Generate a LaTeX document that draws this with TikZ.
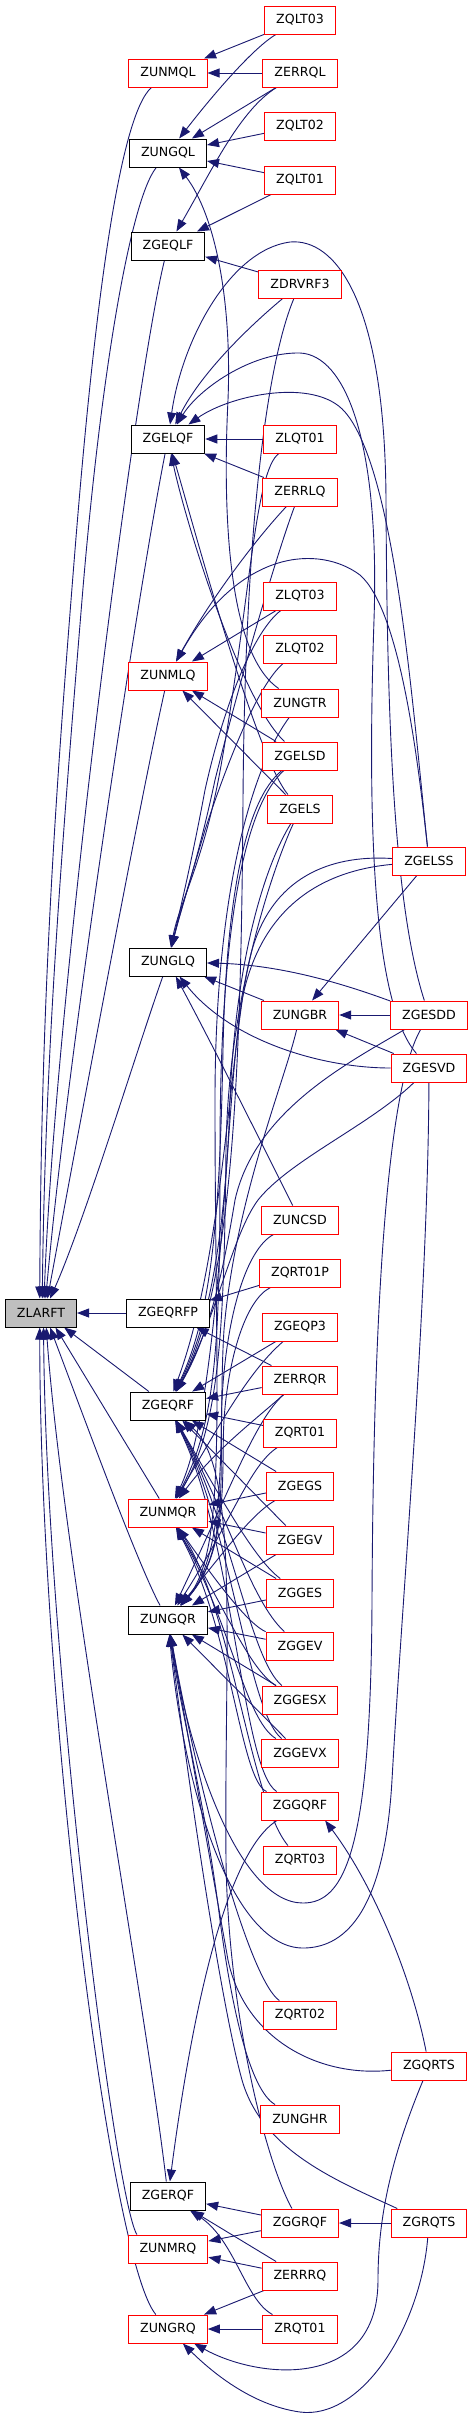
\documentclass[tikz,border=0pt]{standalone}
\usepackage{fontspec}
\setmainfont{DejaVu Sans}
\usetikzlibrary{arrows.meta}
\definecolor{edgeblue}{HTML}{191970}
\definecolor{nodered}{HTML}{FF0000}
\definecolor{rootgray}{HTML}{BFBFBF}
\pgfdeclarelayer{bg}
\pgfsetlayers{bg,main}
\begin{document}
\begin{tikzpicture}[x=1pt,y=-1pt,
  box/.style={draw, rectangle, line width=1pt, minimum height=28pt, inner xsep=11.5pt, inner ysep=0pt,
    font=\fontsize{12.6}{15}\selectfont, fill=white},
  blk/.style={box, draw=black},
  rbox/.style={box, draw=nodered},
  rootbox/.style={box, draw=black, fill=rootgray},
  e/.style={draw=edgeblue, line width=0.9pt, -{Triangle[length=12pt,width=9pt]}}]
\useasboundingbox (0,0) rectangle (475,2418);
% column 1
\node[rootbox] (ZLARFT) at (41,1313) {ZLARFT};
% column 2
\node[rbox] (ZUNMQL) at (168,73) {ZUNMQL};
\node[blk] (ZUNGQL) at (168,153) {ZUNGQL};
\node[blk] (ZGEQLF) at (168,246) {ZGEQLF};
\node[blk] (ZGELQF) at (168,439) {ZGELQF};
\node[rbox] (ZUNMLQ) at (168,676) {ZUNMLQ};
\node[blk] (ZUNGLQ) at (168,962) {ZUNGLQ};
\node[blk] (ZGEQRFP) at (168,1313) {ZGEQRFP};
\node[blk] (ZGEQRF) at (168,1406) {ZGEQRF};
\node[rbox] (ZUNMQR) at (168,1513) {ZUNMQR};
\node[blk] (ZUNGQR) at (168,1620) {ZUNGQR};
\node[blk] (ZGERQF) at (168,2196) {ZGERQF};
\node[rbox] (ZUNMRQ) at (168,2249) {ZUNMRQ};
\node[rbox] (ZUNGRQ) at (168,2329) {ZUNGRQ};
% column 3
\node[rbox] (ZQLT03) at (300,20) {ZQLT03};
\node[rbox] (ZERRQL) at (300,73) {ZERRQL};
\node[rbox] (ZQLT02) at (300,126) {ZQLT02};
\node[rbox] (ZQLT01) at (300,180) {ZQLT01};
\node[rbox] (ZDRVRF3) at (300,284) {ZDRVRF3};
\node[rbox] (ZLQT01) at (300,439) {ZLQT01};
\node[rbox] (ZERRLQ) at (300,492) {ZERRLQ};
\node[rbox] (ZLQT03) at (300,596) {ZLQT03};
\node[rbox] (ZLQT02) at (300,649) {ZLQT02};
\node[rbox] (ZUNGTR) at (300,703) {ZUNGTR};
\node[rbox] (ZGELSD) at (300,756) {ZGELSD};
\node[rbox] (ZGELS) at (300,809) {ZGELS};
\node[rbox] (ZUNGBR) at (300,1015) {ZUNGBR};
\node[rbox] (ZUNCSD) at (300,1220) {ZUNCSD};
\node[rbox] (ZQRT01P) at (300,1273) {ZQRT01P};
\node[rbox] (ZGEQP3) at (300,1327) {ZGEQP3};
\node[rbox] (ZERRQR) at (300,1380) {ZERRQR};
\node[rbox] (ZQRT01) at (300,1433) {ZQRT01};
\node[rbox] (ZGEGS) at (300,1486) {ZGEGS};
\node[rbox] (ZGEGV) at (300,1540) {ZGEGV};
\node[rbox] (ZGGES) at (300,1593) {ZGGES};
\node[rbox] (ZGGEV) at (300,1646) {ZGGEV};
\node[rbox] (ZGGESX) at (300,1700) {ZGGESX};
\node[rbox] (ZGGEVX) at (300,1753) {ZGGEVX};
\node[rbox] (ZGGQRF) at (300,1806) {ZGGQRF};
\node[rbox] (ZQRT03) at (300,1860) {ZQRT03};
\node[rbox] (ZQRT02) at (300,2015) {ZQRT02};
\node[rbox] (ZUNGHR) at (300,2119) {ZUNGHR};
\node[rbox] (ZGGRQF) at (300,2223) {ZGGRQF};
\node[rbox] (ZERRRQ) at (300,2276) {ZERRRQ};
\node[rbox] (ZRQT01) at (300,2329) {ZRQT01};
% column 4
\node[rbox] (ZGELSS) at (429,861) {ZGELSS};
\node[rbox] (ZGESDD) at (429,1015) {ZGESDD};
\node[rbox] (ZGESVD) at (429,1068) {ZGESVD};
\node[rbox] (ZGQRTS) at (429,2066) {ZGQRTS};
\node[rbox] (ZGRQTS) at (429,2223) {ZGRQTS};

\begin{pgfonlayer}{bg}
\fill[white] (0,0) rectangle (475,2418);
% into ZLARFT
\draw[e] (ZUNMQL) .. controls (120,115) and (95,300) .. (75,550) .. controls (55,800) and (41,1000) .. (ZLARFT.95);
\draw[e] (ZUNGQL) .. controls (130,200) and (100,380) .. (82,600) .. controls (64,820) and (45,1050) .. (ZLARFT.85);
\draw[e] (ZGEQLF) .. controls (135,380) and (55,1000) .. (ZLARFT.78);
\draw[e] (ZGELQF) .. controls (140,580) and (68,1050) .. (ZLARFT.72);
\draw[e] (ZUNMLQ) .. controls (140,800) and (75,1150) .. (ZLARFT.66);
\draw[e] (ZUNGLQ) .. controls (140,1040) and (85,1220) .. (ZLARFT.58);
\draw[e] (ZGEQRFP) -- (ZLARFT);
\draw[e] (ZGEQRF) -- (ZLARFT.-32);
\draw[e] (ZUNMQR) -- (ZLARFT.-45);
\draw[e] (ZUNGQR) .. controls (138,1565) and (85,1420) .. (ZLARFT.-58);
\draw[e] (ZGERQF) .. controls (145,2000) and (62,1550) .. (ZLARFT.-70);
\draw[e] (ZUNMRQ.155) .. controls (115,2200) and (46,1650) .. (ZLARFT.-80);
\draw[e] (ZUNGRQ) .. controls (110,2260) and (40,1700) .. (ZLARFT.-95);
% top group
\draw[e] (ZQLT03) -- (ZUNMQL);
\draw[e] (ZQLT03) .. controls (250,50) and (205,105) .. (ZUNGQL);
\draw[e] (ZERRQL) -- (ZUNMQL);
\draw[e] (ZERRQL) -- (ZUNGQL);
\draw[e] (ZERRQL) .. controls (240,110) and (212,170) .. (ZGEQLF);
\draw[e] (ZQLT02) -- (ZUNGQL);
\draw[e] (ZQLT01) -- (ZUNGQL);
\draw[e] (ZQLT01) -- (ZGEQLF);
\draw[e] (ZUNGTR) .. controls (222,650) and (224,480) .. (228,400) .. controls (232,300) and (215,215) .. (ZUNGQL);
\draw[e] (ZDRVRF3) -- (ZGEQLF);
% ZGELQF
\draw[e] (ZDRVRF3) .. controls (245,330) and (200,375) .. (ZGELQF);
\draw[e] (ZLQT01) -- (ZGELQF);
\draw[e] (ZERRLQ) -- (ZGELQF);
\draw[e] (ZGELSS) .. controls (412,700) and (395,470) .. (345,412) .. controls (315,377) and (230,395) .. (ZGELQF);
\draw[e] (ZGESDD) .. controls (392,900) and (387,700) .. (386,500) .. controls (385,300) and (335,238) .. (290,242) .. controls (230,250) and (182,340) .. (ZGELQF);
\draw[e] (ZGESVD) .. controls (370,1000) and (368,800) .. (374,620) .. controls (380,440) and (345,355) .. (300,353) .. controls (250,352) and (198,390) .. (ZGELQF);
\draw[e] (ZGELSD) .. controls (240,700) and (185,520) .. (ZGELQF);
\draw[e] (ZGELS) .. controls (255,755) and (192,520) .. (ZGELQF);
% ZUNMLQ
\draw[e] (ZERRLQ) .. controls (255,540) and (210,600) .. (ZUNMLQ);
\draw[e] (ZLQT03) -- (ZUNMLQ);
\draw[e] (ZGELSD) -- (ZUNMLQ);
\draw[e] (ZGELS) -- (ZUNMLQ);
\draw[e] (ZGELSS) .. controls (418,760) and (400,610) .. (360,575) .. controls (320,545) and (240,548) .. (ZUNMLQ);
% ZUNGLQ
\draw[e] (ZLQT01) .. controls (255,470) and (250,600) .. (222,760) .. controls (205,860) and (180,900) .. (ZUNGLQ);
\draw[e] (ZERRLQ) .. controls (280,545) and (245,660) .. (215,780) .. controls (198,860) and (182,905) .. (ZUNGLQ);
\draw[e] (ZLQT03) .. controls (255,630) and (225,700) .. (205,790) .. controls (192,860) and (180,910) .. (ZUNGLQ);
\draw[e] (ZLQT02) .. controls (258,685) and (228,760) .. (205,830) .. controls (190,880) and (178,920) .. (ZUNGLQ);
\draw[e] (ZUNGBR) -- (ZUNGLQ);
\draw[e] (ZGESDD) .. controls (360,990) and (290,965) .. (ZUNGLQ);
\draw[e] (ZGESVD) .. controls (320,1068) and (230,1040) .. (ZUNGLQ);
\draw[e] (ZUNCSD) .. controls (265,1150) and (210,1040) .. (ZUNGLQ);
% ZUNGBR
\draw[e] (ZGELSS) -- (ZUNGBR);
\draw[e] (ZGESDD) -- (ZUNGBR);
\draw[e] (ZGESVD) -- (ZUNGBR);
% ZGEQRFP
\draw[e] (ZQRT01P) -- (ZGEQRFP);
\draw[e] (ZERRQR) -- (ZGEQRFP);
% ZGEQRF
\draw[e] (ZDRVRF3) .. controls (268,360) and (245,520) .. (243,800) .. controls (241,1080) and (232,1290) .. (ZGEQRF);
\draw[e] (ZGELSD) .. controls (245,800) and (226,900) .. (223,1050) .. controls (220,1200) and (214,1310) .. (ZGEQRF);
\draw[e] (ZGELS) .. controls (268,860) and (236,950) .. (230,1100) .. controls (226,1220) and (212,1320) .. (ZGEQRF);
\draw[e] (ZGELSS) .. controls (340,855) and (275,870) .. (252,950) .. controls (230,1030) and (226,1250) .. (ZGEQRF);
\draw[e] (ZGESDD) .. controls (350,1062) and (255,1110) .. (235,1200) .. controls (225,1260) and (212,1330) .. (ZGEQRF);
\draw[e] (ZGESVD) .. controls (370,1125) and (290,1160) .. (258,1200) .. controls (232,1235) and (216,1320) .. (ZGEQRF);
\draw[e] (ZGEQP3) -- (ZGEQRF);
\draw[e] (ZERRQR) -- (ZGEQRF);
\draw[e] (ZQRT01) -- (ZGEQRF);
\draw[e] (ZGEGS) -- (ZGEQRF);
\draw[e] (ZGEGV) -- (ZGEQRF);
\draw[e] (ZGGES) .. controls (255,1560) and (222,1500) .. (ZGEQRF);
\draw[e] (ZGGEV) .. controls (250,1600) and (226,1510) .. (ZGEQRF);
\draw[e] (ZGGESX) .. controls (250,1660) and (230,1520) .. (ZGEQRF);
\draw[e] (ZGGEVX) .. controls (248,1712) and (232,1530) .. (ZGEQRF);
\draw[e] (ZGGQRF) .. controls (242,1770) and (234,1540) .. (ZGEQRF);
\draw[e] (ZGGRQF) .. controls (265,2160) and (228,2010) .. (226,1860) .. controls (224,1650) and (240,1470) .. (ZGEQRF);
% ZUNMQR
\draw[e] (ZGELSD) .. controls (240,810) and (220,950) .. (220,1150) .. controls (220,1330) and (218,1420) .. (ZUNMQR);
\draw[e] (ZGELS) .. controls (272,870) and (228,1000) .. (226,1150) .. controls (224,1330) and (220,1425) .. (ZUNMQR);
\draw[e] (ZGELSS) .. controls (330,870) and (262,900) .. (242,1000) .. controls (225,1100) and (222,1400) .. (ZUNMQR);
\draw[e] (ZGEQP3) .. controls (250,1370) and (222,1420) .. (ZUNMQR);
\draw[e] (ZERRQR) .. controls (255,1420) and (215,1450) .. (ZUNMQR);
\draw[e] (ZGEGS) -- (ZUNMQR);
\draw[e] (ZGEGV) -- (ZUNMQR);
\draw[e] (ZGGES) -- (ZUNMQR);
\draw[e] (ZGGEV) .. controls (250,1625) and (222,1590) .. (ZUNMQR);
\draw[e] (ZGGESX) .. controls (250,1670) and (226,1610) .. (ZUNMQR);
\draw[e] (ZGGEVX) .. controls (245,1720) and (230,1620) .. (ZUNMQR);
\draw[e] (ZGGQRF) .. controls (240,1780) and (232,1630) .. (ZUNMQR);
\draw[e] (ZQRT03) .. controls (250,1800) and (232,1610) .. (ZUNMQR);
% ZUNGQR from above
\draw[e] (ZUNGTR) .. controls (250,770) and (215,900) .. (215,1100) .. controls (215,1400) and (228,1550) .. (ZUNGQR);
\draw[e] (ZUNGBR) .. controls (285,1080) and (235,1200) .. (224,1330) .. controls (218,1420) and (230,1550) .. (ZUNGQR);
\draw[e] (ZUNCSD) .. controls (245,1250) and (226,1320) .. (222,1400) .. controls (219,1470) and (230,1550) .. (ZUNGQR);
\draw[e] (ZQRT01P) .. controls (245,1300) and (228,1360) .. (224,1420) .. controls (221,1470) and (230,1550) .. (ZUNGQR);
\draw[e] (ZERRQR) .. controls (255,1420) and (230,1490) .. (ZUNGQR);
\draw[e] (ZQRT01) .. controls (250,1465) and (232,1520) .. (ZUNGQR);
\draw[e] (ZGEGS) .. controls (250,1515) and (222,1555) .. (ZUNGQR);
\draw[e] (ZGEGV) -- (ZUNGQR);
\draw[e] (ZGGES) -- (ZUNGQR);
\draw[e] (ZGGEV) -- (ZUNGQR);
\draw[e] (ZGGESX) -- (ZUNGQR);
\draw[e] (ZGGEVX) -- (ZUNGQR);
% ZUNGQR from below
\draw[e] (ZGESDD) .. controls (380,1100) and (373,1400) .. (372,1600) .. controls (371,1850) and (345,1903) .. (303,1903) .. controls (240,1903) and (190,1760) .. (ZUNGQR);
\draw[e] (ZGESVD) .. controls (428,1300) and (402,1600) .. (392,1780) .. controls (384,1920) and (340,1948) .. (303,1948) .. controls (235,1948) and (185,1800) .. (ZUNGQR);
\draw[e] (ZQRT02) .. controls (250,1980) and (200,1800) .. (ZUNGQR);
\draw[e] (ZGQRTS) .. controls (320,2078) and (245,2040) .. (228,1960) .. controls (212,1870) and (185,1720) .. (ZUNGQR);
\draw[e] (ZUNGHR) .. controls (250,2090) and (232,2010) .. (220,1920) .. controls (205,1800) and (182,1720) .. (ZUNGQR);
\draw[e] (ZGRQTS) .. controls (335,2180) and (262,2150) .. (242,2080) .. controls (220,2000) and (188,1780) .. (ZUNGQR);
% ZGERQF, ZUNMRQ, ZUNGRQ
\draw[e] (ZGGQRF) .. controls (230,1850) and (195,1990) .. (ZGERQF);
\draw[e] (ZGGRQF) -- (ZGERQF);
\draw[e] (ZERRRQ) -- (ZGERQF);
\draw[e] (ZRQT01) .. controls (245,2300) and (235,2240) .. (ZGERQF);
\draw[e] (ZGGRQF) -- (ZUNMRQ);
\draw[e] (ZERRRQ) -- (ZUNMRQ);
\draw[e] (ZERRRQ) -- (ZUNGRQ);
\draw[e] (ZRQT01) -- (ZUNGRQ);
\draw[e] (ZGQRTS) .. controls (390,2160) and (378,2220) .. (378,2280) .. controls (378,2390) and (260,2380) .. (ZUNGRQ);
\draw[e] (ZGRQTS) .. controls (420,2330) and (360,2420) .. (300,2412) .. controls (250,2405) and (210,2370) .. (ZUNGRQ);
% ZGGQRF, ZGGRQF
\draw[e] (ZGQRTS) .. controls (410,1970) and (370,1880) .. (ZGGQRF.-30);
\draw[e] (ZGRQTS) -- (ZGGRQF);
\end{pgfonlayer}
\end{tikzpicture}
\end{document}
